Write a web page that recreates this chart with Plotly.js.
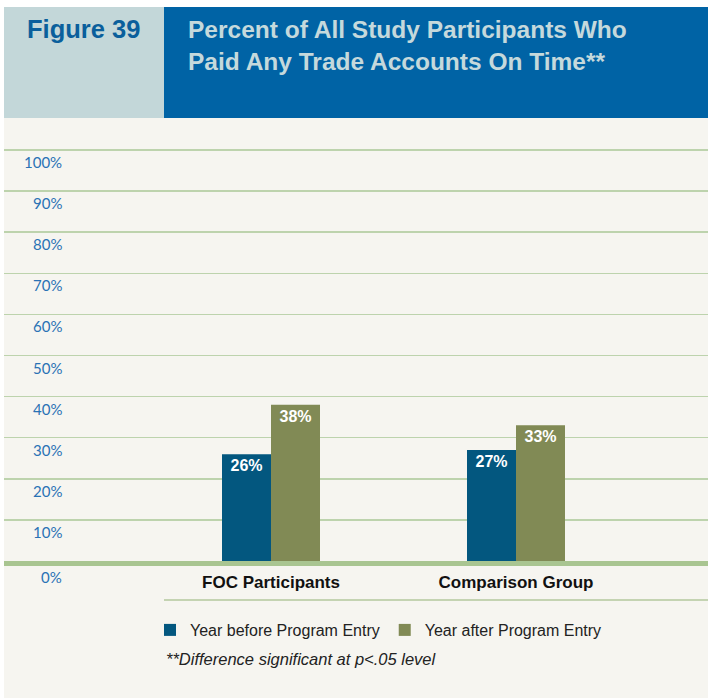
<!DOCTYPE html>
<html>
<head>
<meta charset="utf-8">
<script src="https://cdn.plot.ly/plotly-3.0.1.min.js"></script>
<style>
  html, body { margin: 0; padding: 0; background: #ffffff; }
  #chart { width: 708px; height: 698px; }
</style>
</head>
<body>
<div id="chart"></div>
<script>
// ---- Data ----
const categories = ["FOC Participants", "Comparison Group"];
const seriesNames = ["Year before Program Entry", "Year after Program Entry"];
const yearBefore = [26, 27];
const yearAfter = [38, 33];
const yTickVals = [0, 10, 20, 30, 40, 50, 60, 70, 80, 90, 100];
const yTickText = ["0%", "10%", "20%", "30%", "40%", "50%", "60%", "70%", "80%", "90%", "100%"];
const figureLabel = "Figure 39";
const titleText = "Percent of All Study Participants Who<br>Paid Any Trade Accounts On Time**";
const footnote = "**Difference significant at p<.05 level";

// ---- Styles ----
const W = 708, H = 698;
const M = {l: 4, r: 0, t: 130, b: 137};
const plotW = W - M.l - M.r, plotH = H - M.t - M.b;
const px2x = px => (px - M.l) / plotW;            // page px -> paper x
const py2y = py => (H - M.b - py) / plotH;        // page px -> paper y

const blue = "#03577f", olive = "#818a55";
const barFont = {family: "Liberation Sans, Arial, sans-serif", size: 16, color: "#ffffff", weight: "bold"};

const traces = [
  {type: "bar", name: seriesNames[0], x: categories, y: yearBefore,
   marker: {color: blue}, texttemplate: "<b>%{y}%</b>", textposition: "inside",
   insidetextanchor: "end", textfont: barFont, hoverinfo: "skip"},
  {type: "bar", name: seriesNames[1], x: categories, y: yearAfter,
   marker: {color: olive}, texttemplate: "<b>%{y}%</b>", textposition: "inside",
   insidetextanchor: "end", textfont: barFont, hoverinfo: "skip"}
];

const annotations = [
  {xref: "paper", yref: "paper", x: px2x(25), y: py2y(29), xanchor: "left", yanchor: "middle",
   text: "<b>" + figureLabel + "</b>", showarrow: false,
   font: {family: "Liberation Sans, Arial, sans-serif", size: 25.5, color: "#0a5f9c"}},
  {xref: "paper", yref: "paper", x: px2x(186), y: py2y(46), xanchor: "left", yanchor: "middle",
   align: "left", text: "<b>" + titleText + "</b>", showarrow: false,
   font: {family: "Liberation Sans, Arial, sans-serif", size: 24.5, color: "#c5d9dc"}},
  {xref: "paper", yref: "paper", x: px2x(164), y: py2y(659), xanchor: "left", yanchor: "middle",
   text: "<i>" + footnote + "</i>", showarrow: false,
   font: {family: "Liberation Sans, Arial, sans-serif", size: 16.5, color: "#222222"}}
];
yTickVals.forEach((v, i) => {
  annotations.push({xref: "paper", yref: "y", x: px2x(64), y: v, xanchor: "right", yanchor: "middle",
    yshift: v === 0 ? -16 : -12, text: yTickText[i], showarrow: false,
    font: {family: "Lato, sans-serif", size: 15, color: "#2a72b5"}});
});

const shapes = [
  // white frame strips
  {type: "rect", xref: "paper", yref: "paper", x0: px2x(0), x1: px2x(708), y0: py2y(7), y1: py2y(0),
   fillcolor: "#ffffff", line: {width: 0}, layer: "below"},
  {type: "rect", xref: "paper", yref: "paper", x0: px2x(0), x1: px2x(4), y0: py2y(698), y1: py2y(0),
   fillcolor: "#ffffff", line: {width: 0}, layer: "below"},
  // header boxes
  {type: "rect", xref: "paper", yref: "paper", x0: px2x(4), x1: px2x(164), y0: py2y(118), y1: py2y(7),
   fillcolor: "#c3d7d9", line: {width: 0}, layer: "below"},
  {type: "rect", xref: "paper", yref: "paper", x0: px2x(164), x1: px2x(708), y0: py2y(118), y1: py2y(7),
   fillcolor: "#0063a5", line: {width: 0}, layer: "below"},
  // thin separator line under category labels
  {type: "line", xref: "paper", yref: "paper", x0: px2x(164), x1: px2x(708), y0: py2y(600), y1: py2y(600),
   line: {color: "#b3c79e", width: 1.5}}
];

const layout = {
  width: W, height: H,
  margin: M,
  paper_bgcolor: "#f6f5f0",
  plot_bgcolor: "#f6f5f0",
  barmode: "group",
  bargap: 0.6,
  bargroupgap: 0,
  showlegend: true,
  legend: {orientation: "h", x: px2x(150), y: py2y(613), xanchor: "left", yanchor: "top",
           bgcolor: "rgba(0,0,0,0)", traceorder: "normal",
           font: {family: "Liberation Sans, Arial, sans-serif", size: 16, color: "#222222"}},
  xaxis: {type: "category", range: [(4 - 271) / 245, (708 - 271) / 245], fixedrange: true,
          showgrid: false, zeroline: false, showline: true, linecolor: "#a9c591", linewidth: 5,
          ticks: "", ticklabelstandoff: 2,
          tickfont: {family: "Liberation Sans, Arial, sans-serif", size: 17, color: "#111111", weight: "bold"}},
  yaxis: {range: [0, (561 - 130) / 4.11], tickvals: yTickVals, showticklabels: false,
          showgrid: true, gridcolor: "#bdd3ad", gridwidth: 1.5, zeroline: false, fixedrange: true},
  annotations: annotations,
  shapes: shapes,
  hovermode: false
};

Plotly.newPlot("chart", traces, layout, {staticPlot: true, displayModeBar: false});
</script>
</body>
</html>
